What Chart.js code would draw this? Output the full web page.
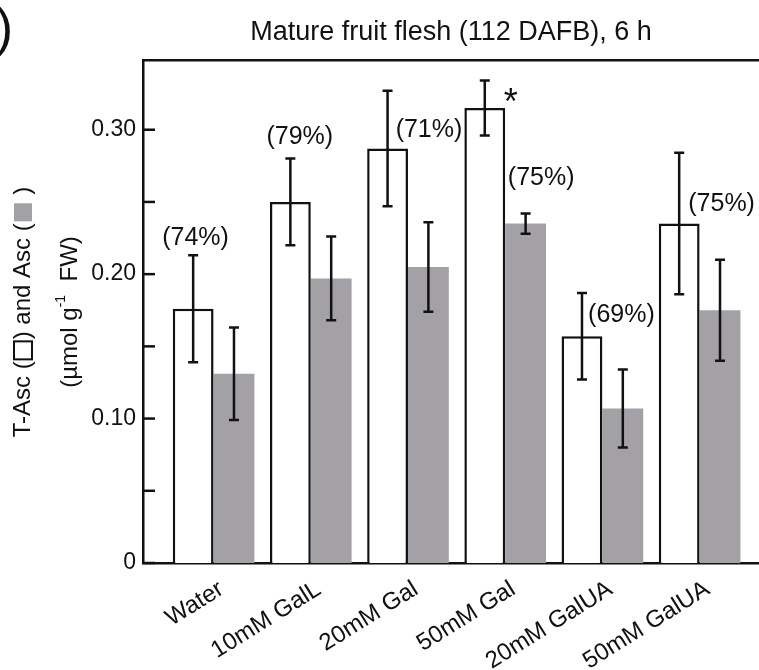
<!DOCTYPE html>
<html>
<head>
<meta charset="utf-8">
<script src="https://cdn.jsdelivr.net/npm/chart.js@4.4.1/dist/chart.umd.min.js"></script>
<style>
	html, body { margin: 0; padding: 0; background: #fff; }
	#wrap { width: 759px; height: 670px; position: relative; }
</style>
</head>
<body>
<div id="wrap"><canvas id="chart"></canvas></div>
<script>
	var categories = ['Water', '10mM GalL', '20mM Gal', '50mM Gal', '20mM GalUA', '50mM GalUA'];
	var totalAsc = [0.176, 0.250, 0.287, 0.315, 0.157, 0.235];
	var totalAscErr = [0.037, 0.030, 0.040, 0.019, 0.030, 0.049];
	var asc = [0.131, 0.197, 0.205, 0.235, 0.107, 0.175];
	var ascErr = [0.032, 0.029, 0.031, 0.007, 0.027, 0.035];
	var ratioLabels = ['(74%)', '(79%)', '(71%)', '(75%)', '(69%)', '(75%)'];
	var yTicks = [0, 0.05, 0.10, 0.15, 0.20, 0.25, 0.30];
	var yTickLabels = ['0', '', '0.10', '', '0.20', '', '0.30'];

	var FONT = 'Liberation Sans, Arial, sans-serif';
	var INK = '#111';

	// label offsets (px) from the top of the T-Asc error bar
	var ratioOffsets = [[-18, -17], [-11, -21], [21, 39], [36, 97], [19, 22], [22, 51]];

	function points(values) {
		return values.map(function (v, i) { return { x: i, y: v }; });
	}

	function errTopPixel(chart, i) {
		return chart.scales.y.getPixelForValue(totalAsc[i] + totalAscErr[i]);
	}

	var errorBars = {
		id: 'errorBars',
		afterDatasetsDraw: function (chart) {
			var ctx = chart.ctx,
				y = chart.scales.y;

			[totalAscErr, ascErr].forEach(function (errs, d) {
				var values = d === 0 ? totalAsc : asc;
				chart.getDatasetMeta(d).data.forEach(function (bar, i) {
					var top = y.getPixelForValue(values[i] + errs[i]),
						bot = y.getPixelForValue(values[i] - errs[i]);
					ctx.save();
					ctx.strokeStyle = INK;
					ctx.lineWidth = 2.5;
					ctx.beginPath();
					ctx.moveTo(bar.x, top);
					ctx.lineTo(bar.x, bot);
					ctx.moveTo(bar.x - 5, top);
					ctx.lineTo(bar.x + 5, top);
					ctx.moveTo(bar.x - 5, bot);
					ctx.lineTo(bar.x + 5, bot);
					ctx.stroke();
					ctx.restore();
				});
			});
		}
	};

	var annotations = {
		id: 'annotations',
		afterDraw: function (chart) {
			var ctx = chart.ctx,
				x = chart.scales.x,
				y = chart.scales.y,
				area = chart.chartArea;

			ctx.save();

			// inward ticks on the y axis
			ctx.strokeStyle = INK;
			ctx.lineWidth = 2.5;
			y.ticks.forEach(function (t) {
				var py = y.getPixelForValue(t.value);
				ctx.beginPath();
				ctx.moveTo(area.left, py);
				ctx.lineTo(area.left + 12, py);
				ctx.stroke();
			});

			// ratio labels
			ctx.fillStyle = INK;
			ctx.font = '25px "Liberation Sans Narrow", ' + FONT;
			ctx.textAlign = 'center';
			ctx.textBaseline = 'middle';
			ratioLabels.forEach(function (txt, i) {
				ctx.fillText(txt, x.getPixelForValue(i) + ratioOffsets[i][0], errTopPixel(chart, i) + ratioOffsets[i][1]);
			});

			// significance mark
			var bar = chart.getDatasetMeta(0).data[3];
			ctx.font = '36px ' + FONT;
			ctx.textBaseline = 'alphabetic';
			ctx.fillText('*', bar.x + 26, errTopPixel(chart, 3) + 33);

			// cut-off panel letter
			ctx.font = '52px ' + FONT;
			ctx.textAlign = 'right';
			ctx.fillText(')', 13, 45);

			// y axis title
			ctx.translate(23, 312);
			ctx.rotate(-Math.PI / 2);
			ctx.font = '24px ' + FONT;
			ctx.textAlign = 'left';
			ctx.textBaseline = 'middle';
			var parts = ['T-Asc (', 'box', ') and Asc (', 'grey', ' )'],
				box = 18,
				total = 0;
			parts.forEach(function (p) {
				total += p === 'box' || p === 'grey' ? box + 4 : ctx.measureText(p).width;
			});
			var cx = -total / 2;
			parts.forEach(function (p) {
				if (p === 'box') {
					ctx.lineWidth = 2;
					ctx.strokeRect(cx + 2, -box / 2, box, box);
					cx += box + 4;
				} else if (p === 'grey') {
					ctx.fillStyle = '#a3a1a6';
					ctx.fillRect(cx + 2, -box / 2, box, box);
					ctx.fillStyle = INK;
					cx += box + 4;
				} else {
					ctx.fillText(p, cx, 0);
					cx += ctx.measureText(p).width;
				}
			});

			// second line
			var l1 = '(\u00b5mol g', sup = '-1', l2 = '  FW)';
			ctx.font = '24px ' + FONT;
			var w1 = ctx.measureText(l1).width, w2 = ctx.measureText(l2).width;
			ctx.font = '14px ' + FONT;
			var ws = ctx.measureText(sup).width;
			var sx = -(w1 + ws + w2) / 2, off = 47;
			ctx.font = '24px ' + FONT;
			ctx.fillText(l1, sx, off);
			ctx.font = '14px ' + FONT;
			ctx.fillText(sup, sx + w1, off - 9);
			ctx.font = '24px ' + FONT;
			ctx.fillText(l2, sx + w1 + ws, off);

			ctx.restore();
		}
	};

	new Chart(document.getElementById('chart'), {
		type: 'bar',
		data: {
			datasets: [{
				label: 'T-Asc',
				data: points(totalAsc),
				backgroundColor: '#ffffff',
				borderColor: INK,
				borderWidth: 2.5,
				borderSkipped: 'start'
			}, {
				label: 'Asc',
				data: points(asc),
				backgroundColor: '#a3a1a6',
				borderWidth: 0
			}]
		},
		options: {
			responsive: true,
			maintainAspectRatio: false,
			animation: false,
			categoryPercentage: 0.84,
			barPercentage: 1,
			layout: { padding: 0 },
			plugins: {
				legend: { display: false },
				tooltip: { enabled: false },
				title: {
					display: true,
					text: 'Mature fruit flesh (112 DAFB), 6 h',
					fullSize: false,
					align: 'center',
					color: INK,
					font: { family: FONT, size: 27, weight: 'normal' },
					padding: { top: 16, bottom: 12 }
				}
			},
			scales: {
				x: {
					type: 'linear',
					min: -0.726,
					max: 5.611,
					offset: false,
					afterBuildTicks: function (scale) {
						scale.ticks = categories.map(function (c, i) { return { value: i }; });
					},
					afterFit: function (scale) { scale.height = 107; },
					ticks: {
						autoSkip: false,
						minRotation: 32,
						maxRotation: 32,
						padding: 12,
						labelOffset: 8,
						color: INK,
						font: { family: FONT, size: 24 },
						callback: function (v) { return categories[v]; }
					},
					grid: { display: false, drawTicks: false, offset: false },
					border: { display: true, color: INK, width: 2.5 }
				},
				x2: {
					type: 'linear',
					position: 'top',
					min: 0,
					max: 1,
					ticks: { display: false },
					grid: { display: false, drawTicks: false },
					border: { display: true, color: INK, width: 2.5 }
				},
				y: {
					min: 0,
					max: 0.348,
					afterBuildTicks: function (scale) {
						scale.ticks = yTicks.map(function (v) { return { value: v }; });
					},
					afterFit: function (scale) { scale.width = 143; },
					ticks: {
						padding: 7,
						color: INK,
						font: { family: FONT, size: 23 },
						callback: function (v, i) { return yTickLabels[i]; }
					},
					grid: { display: false, drawTicks: false },
					border: { display: true, color: INK, width: 2.5 }
				}
			}
		},
		plugins: [errorBars, annotations]
	});
</script>
</body>
</html>
